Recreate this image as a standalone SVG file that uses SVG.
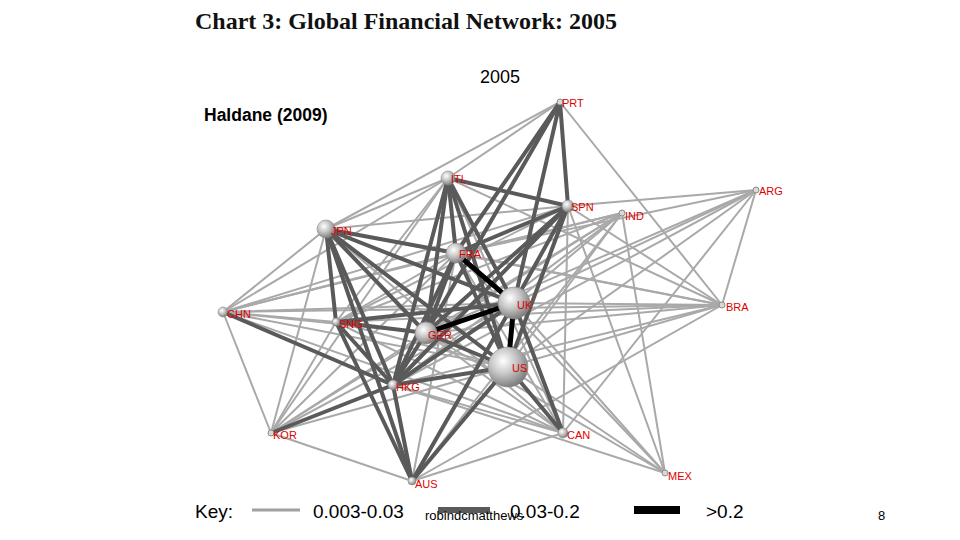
<svg xmlns="http://www.w3.org/2000/svg" width="960" height="540" viewBox="0 0 960 540">
<style>
.t{stroke:#a9a9a9;stroke-width:2;fill:none;stroke-linecap:round}
.d{stroke:#5a5a5a;stroke-width:4;fill:none;stroke-linecap:round}
.b{stroke:#000;stroke-width:5;fill:none;stroke-linecap:round}
.lab{font-family:"Liberation Sans",Arial,sans-serif;font-size:11px;fill:#e00000}
.sm{fill:#d8d8d8;stroke:#8c8c8c;stroke-width:1}
.sp{fill:url(#sph);stroke:#8a8a8a;stroke-width:0.6}
.txt{font-family:"Liberation Sans",Arial,sans-serif;fill:#000}
</style>
<defs>
<radialGradient id="sph" cx="38%" cy="35%" r="70%">
<stop offset="0" stop-color="#ffffff"/>
<stop offset="0.45" stop-color="#c8c8c8"/>
<stop offset="1" stop-color="#767676"/>
</radialGradient>
</defs>
<rect width="960" height="540" fill="#fff"/>
<text x="195" y="29" font-family="'Liberation Serif','Times New Roman',serif" font-weight="bold" font-size="24" fill="#111">Chart 3: Global Financial Network: 2005</text>
<text class="txt" x="480" y="83" font-size="18">2005</text>
<text class="txt" x="204" y="121" font-size="17.5" font-weight="bold">Haldane (2009)</text>
<g id="connectors">
<!-- thin -->
<line class="t" x1="560" y1="102" x2="448" y2="178"/>
<line class="t" x1="560" y1="102" x2="326" y2="229"/>
<line class="t" x1="560" y1="102" x2="722" y2="305"/>
<line class="t" x1="448" y1="178" x2="326" y2="229"/>
<line class="t" x1="448" y1="178" x2="223" y2="312"/>
<line class="t" x1="448" y1="178" x2="336" y2="322"/>
<line class="t" x1="448" y1="178" x2="722" y2="305"/>
<line class="t" x1="448" y1="178" x2="563" y2="433"/>
<line class="t" x1="448" y1="178" x2="271" y2="433"/>
<line class="t" x1="568" y1="206" x2="326" y2="229"/>
<line class="t" x1="568" y1="206" x2="223" y2="312"/>
<line class="t" x1="568" y1="206" x2="336" y2="322"/>
<line class="t" x1="568" y1="206" x2="563" y2="433"/>
<line class="t" x1="568" y1="206" x2="722" y2="305"/>
<line class="t" x1="568" y1="206" x2="756" y2="190"/>
<line class="t" x1="568" y1="206" x2="665" y2="473"/>
<line class="t" x1="622" y1="213" x2="514" y2="303"/>
<line class="t" x1="622" y1="213" x2="456" y2="253"/>
<line class="t" x1="622" y1="213" x2="426" y2="333"/>
<line class="t" x1="622" y1="213" x2="508" y2="367"/>
<line class="t" x1="622" y1="213" x2="336" y2="322"/>
<line class="t" x1="622" y1="213" x2="393" y2="385"/>
<line class="t" x1="622" y1="213" x2="223" y2="312"/>
<line class="t" x1="622" y1="213" x2="271" y2="433"/>
<line class="t" x1="622" y1="213" x2="412" y2="481"/>
<line class="t" x1="622" y1="213" x2="665" y2="473"/>
<line class="t" x1="756" y1="190" x2="456" y2="253"/>
<line class="t" x1="756" y1="190" x2="426" y2="333"/>
<line class="t" x1="756" y1="190" x2="514" y2="303"/>
<line class="t" x1="756" y1="190" x2="508" y2="367"/>
<line class="t" x1="756" y1="190" x2="722" y2="305"/>
<line class="t" x1="756" y1="190" x2="563" y2="433"/>
<line class="t" x1="756" y1="190" x2="393" y2="385"/>
<line class="t" x1="722" y1="305" x2="326" y2="229"/>
<line class="t" x1="722" y1="305" x2="456" y2="253"/>
<line class="t" x1="722" y1="305" x2="514" y2="303"/>
<line class="t" x1="722" y1="305" x2="508" y2="367"/>
<line class="t" x1="722" y1="305" x2="426" y2="333"/>
<line class="t" x1="722" y1="305" x2="336" y2="322"/>
<line class="t" x1="722" y1="305" x2="223" y2="312"/>
<line class="t" x1="722" y1="305" x2="393" y2="385"/>
<line class="t" x1="722" y1="305" x2="412" y2="481"/>
<line class="t" x1="223" y1="312" x2="326" y2="229"/>
<line class="t" x1="223" y1="312" x2="336" y2="322"/>
<line class="t" x1="223" y1="312" x2="514" y2="303"/>
<line class="t" x1="223" y1="312" x2="508" y2="367"/>
<line class="t" x1="223" y1="312" x2="426" y2="333"/>
<line class="t" x1="223" y1="312" x2="456" y2="253"/>
<line class="t" x1="223" y1="312" x2="271" y2="433"/>
<line class="t" x1="223" y1="312" x2="563" y2="433"/>
<line class="t" x1="336" y1="322" x2="271" y2="433"/>
<line class="t" x1="336" y1="322" x2="563" y2="433"/>
<line class="t" x1="336" y1="322" x2="508" y2="367"/>
<line class="t" x1="336" y1="322" x2="456" y2="253"/>
<line class="t" x1="393" y1="385" x2="563" y2="433"/>
<line class="t" x1="271" y1="433" x2="326" y2="229"/>
<line class="t" x1="271" y1="433" x2="456" y2="253"/>
<line class="t" x1="271" y1="433" x2="514" y2="303"/>
<line class="t" x1="271" y1="433" x2="508" y2="367"/>
<line class="t" x1="271" y1="433" x2="426" y2="333"/>
<line class="t" x1="271" y1="433" x2="412" y2="481"/>
<line class="t" x1="563" y1="433" x2="412" y2="481"/>
<line class="t" x1="563" y1="433" x2="456" y2="253"/>
<line class="t" x1="563" y1="433" x2="426" y2="333"/>
<line class="t" x1="563" y1="433" x2="326" y2="229"/>
<line class="t" x1="665" y1="473" x2="508" y2="367"/>
<line class="t" x1="665" y1="473" x2="514" y2="303"/>
<line class="t" x1="665" y1="473" x2="426" y2="333"/>
<line class="t" x1="665" y1="473" x2="456" y2="253"/>
<line class="t" x1="665" y1="473" x2="393" y2="385"/>
<line class="t" x1="412" y1="481" x2="456" y2="253"/>
<!-- dark -->
<line class="d" x1="560" y1="102" x2="568" y2="206"/>
<line class="d" x1="560" y1="102" x2="514" y2="303"/>
<line class="d" x1="560" y1="102" x2="426" y2="333"/>
<line class="d" x1="560" y1="102" x2="456" y2="253"/>
<line class="d" x1="448" y1="178" x2="456" y2="253"/>
<line class="d" x1="448" y1="178" x2="426" y2="333"/>
<line class="d" x1="448" y1="178" x2="514" y2="303"/>
<line class="d" x1="448" y1="178" x2="508" y2="367"/>
<line class="d" x1="448" y1="178" x2="568" y2="206"/>
<line class="d" x1="448" y1="178" x2="393" y2="385"/>
<line class="d" x1="568" y1="206" x2="456" y2="253"/>
<line class="d" x1="568" y1="206" x2="514" y2="303"/>
<line class="d" x1="568" y1="206" x2="426" y2="333"/>
<line class="d" x1="568" y1="206" x2="508" y2="367"/>
<line class="d" x1="568" y1="206" x2="393" y2="385"/>
<line class="d" x1="326" y1="229" x2="456" y2="253"/>
<line class="d" x1="326" y1="229" x2="514" y2="303"/>
<line class="d" x1="326" y1="229" x2="426" y2="333"/>
<line class="d" x1="326" y1="229" x2="508" y2="367"/>
<line class="d" x1="326" y1="229" x2="336" y2="322"/>
<line class="d" x1="326" y1="229" x2="393" y2="385"/>
<line class="d" x1="326" y1="229" x2="412" y2="481"/>
<line class="d" x1="456" y1="253" x2="426" y2="333"/>
<line class="d" x1="456" y1="253" x2="508" y2="367"/>
<line class="d" x1="456" y1="253" x2="393" y2="385"/>
<line class="d" x1="514" y1="303" x2="563" y2="433"/>
<line class="d" x1="514" y1="303" x2="393" y2="385"/>
<line class="d" x1="514" y1="303" x2="412" y2="481"/>
<line class="d" x1="514" y1="303" x2="336" y2="322"/>
<line class="d" x1="508" y1="367" x2="563" y2="433"/>
<line class="d" x1="508" y1="367" x2="426" y2="333"/>
<line class="d" x1="508" y1="367" x2="393" y2="385"/>
<line class="d" x1="508" y1="367" x2="412" y2="481"/>
<line class="d" x1="426" y1="333" x2="393" y2="385"/>
<line class="d" x1="426" y1="333" x2="336" y2="322"/>
<line class="d" x1="336" y1="322" x2="393" y2="385"/>
<line class="d" x1="336" y1="322" x2="412" y2="481"/>
<line class="d" x1="223" y1="312" x2="393" y2="385"/>
<line class="d" x1="393" y1="385" x2="271" y2="433"/>
<line class="d" x1="393" y1="385" x2="412" y2="481"/>
<!-- black -->
<line class="b" x1="456" y1="253" x2="514" y2="303"/>
<line class="b" x1="514" y1="303" x2="426" y2="333"/>
<line class="b" x1="514" y1="303" x2="508" y2="367"/>
</g>
<g id="node-PRT"><circle class="sm" cx="560" cy="102" r="3"/><text class="lab" x="562" y="107">PRT</text></g>
<g id="node-ITL"><circle class="sp" cx="448" cy="178" r="7"/><text class="lab" x="451" y="183">ITL</text></g>
<g id="node-SPN"><circle class="sp" cx="568" cy="206" r="6"/><text class="lab" x="571" y="211">SPN</text></g>
<g id="node-IND"><circle class="sm" cx="622" cy="213" r="3"/><text class="lab" x="625" y="220">IND</text></g>
<g id="node-ARG"><circle class="sm" cx="756" cy="190" r="3"/><text class="lab" x="759" y="195">ARG</text></g>
<g id="node-JPN"><circle class="sp" cx="326" cy="229" r="9"/><text class="lab" x="331" y="235">JPN</text></g>
<g id="node-FRA"><circle class="sp" cx="456" cy="253" r="10"/><text class="lab" x="459" y="258">FRA</text></g>
<g id="node-UK"><circle class="sp" cx="514" cy="303" r="16"/><text class="lab" x="517" y="309">UK</text></g>
<g id="node-BRA"><circle class="sm" cx="722" cy="305" r="3"/><text class="lab" x="726" y="311">BRA</text></g>
<g id="node-CHN"><circle class="sp" cx="223" cy="312" r="5"/><text class="lab" x="227" y="318">CHN</text></g>
<g id="node-SNG"><circle class="sp" cx="336" cy="322" r="4"/><text class="lab" x="339" y="328">SNG</text></g>
<g id="node-GER"><circle class="sp" cx="426" cy="333" r="11"/><text class="lab" x="428" y="339">GER</text></g>
<g id="node-US"><circle class="sp" cx="508" cy="367" r="20"/><text class="lab" x="512" y="372">US</text></g>
<g id="node-HKG"><circle class="sp" cx="393" cy="385" r="5"/><text class="lab" x="396" y="391">HKG</text></g>
<g id="node-KOR"><circle class="sm" cx="271" cy="433" r="3"/><text class="lab" x="273" y="439">KOR</text></g>
<g id="node-CAN"><circle class="sp" cx="563" cy="433" r="5"/><text class="lab" x="567" y="439">CAN</text></g>
<g id="node-AUS"><circle class="sp" cx="412" cy="481" r="4"/><text class="lab" x="415" y="488">AUS</text></g>
<g id="node-MEX"><circle class="sm" cx="665" cy="473" r="3"/><text class="lab" x="668" y="480">MEX</text></g>
<g id="key">
<text class="txt" x="195" y="518" font-size="19">Key:</text>
<line x1="252" y1="510" x2="300" y2="510" stroke="#a0a0a0" stroke-width="3"/>
<text class="txt" x="313" y="518" font-size="19">0.003-0.03</text>
<line x1="438" y1="510" x2="490" y2="510" stroke="#5a5a5a" stroke-width="6"/>
<text class="txt" x="510" y="518" font-size="19">0.03-0.2</text>
<line x1="634" y1="510" x2="680" y2="510" stroke="#000" stroke-width="8"/>
<text class="txt" x="706" y="518" font-size="19">&gt;0.2</text>
</g>
<text class="txt" x="425" y="520" font-size="13">robindcmatthews</text>
<text class="txt" x="878" y="520" font-size="13">8</text>
</svg>
